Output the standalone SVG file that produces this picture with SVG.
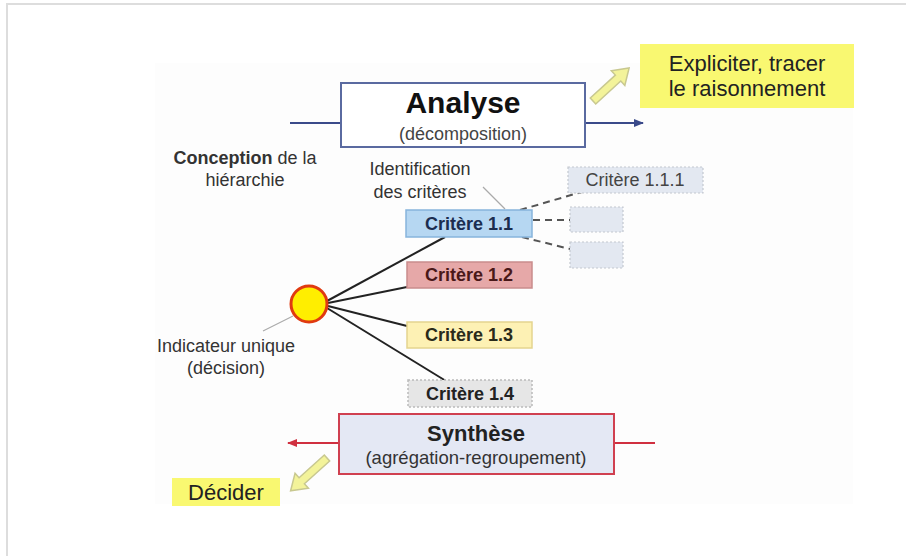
<svg xmlns="http://www.w3.org/2000/svg" width="906" height="556" viewBox="0 0 906 556">
<defs>
<style>
text{font-family:"Liberation Sans",Arial,sans-serif;text-anchor:middle}
.crit{font-size:18px;font-weight:bold}
.lbl{font-size:18px;fill:#333}
.conn{stroke:#222;stroke-width:2;fill:none}
.dash{stroke:#555;stroke-width:2;stroke-dasharray:7,5;fill:none}
.leader{stroke:#aaa;stroke-width:1.2;fill:none}
.yarrow{fill:#f3f39a;stroke:#c8c890;stroke-width:1.5}
.ybox{fill:#f9f871}
</style>
<marker id="ab" viewBox="0 0 10 10" refX="9" refY="5" markerWidth="5" markerHeight="5" orient="auto"><path d="M0,1 L10,5 L0,9 Z" fill="#3a4a8a"/></marker>
<marker id="ar" viewBox="0 0 10 10" refX="9" refY="5" markerWidth="5" markerHeight="5" orient="auto"><path d="M0,1 L10,5 L0,9 Z" fill="#d03040"/></marker>
<path id="blk" d="M0,-4 L34,-4 L34,-10 L49,0 L34,10 L34,4 L0,4 Z"/>
</defs>
<rect width="906" height="556" fill="#fff"/>
<path d="M7,556 L7,4 L906,4" fill="none" stroke="#ddd" stroke-width="2"/>
<rect x="155" y="63" width="698" height="441" fill="#fdfdfd"/>

<g id="connectors">
<line x1="290" y1="123" x2="341" y2="123" stroke="#3a4a8a" stroke-width="2"/>
<line x1="585" y1="123" x2="643" y2="123" stroke="#3a4a8a" stroke-width="2" marker-end="url(#ab)"/>
<line x1="339" y1="443" x2="288" y2="443" stroke="#d03040" stroke-width="2" marker-end="url(#ar)"/>
<line x1="614" y1="443" x2="655" y2="443" stroke="#d03040" stroke-width="2"/>
<use href="#blk" class="yarrow" transform="translate(593,101) rotate(-42.5)"/>
<use href="#blk" class="yarrow" transform="translate(327,458) rotate(138)"/>
<line class="conn" x1="327" y1="301" x2="445" y2="237"/>
<line class="conn" x1="328" y1="303" x2="407" y2="287"/>
<line class="conn" x1="328" y1="306" x2="407" y2="326"/>
<line class="conn" x1="327" y1="308" x2="446" y2="381"/>
<line class="dash" x1="520" y1="210" x2="585" y2="191"/>
<line class="dash" x1="533" y1="220" x2="570" y2="220"/>
<line class="dash" x1="522" y1="237" x2="570" y2="249"/>
<line class="leader" x1="483" y1="187" x2="505" y2="209"/>
<line class="leader" x1="263" y1="331" x2="293" y2="316"/>
</g>

<g id="analyse">
<rect x="341" y="83" width="244" height="64" fill="#fff" stroke="#5a6aa0" stroke-width="2"/>
<text x="463" y="113" font-size="30" font-weight="bold" fill="#111">Analyse</text>
<text x="463" y="140" font-size="18" fill="#444">(décomposition)</text>
</g>

<g id="expliciter">
<rect class="ybox" x="640" y="44" width="214" height="64"/>
<text x="747" y="71" font-size="22" fill="#222">Expliciter, tracer</text>
<text x="747" y="96" font-size="22" fill="#222">le raisonnement</text>
</g>

<g id="conception">
<text x="245" y="164" class="lbl"><tspan font-weight="bold">Conception</tspan> de la</text>
<text x="245" y="186" class="lbl">hiérarchie</text>
</g>

<g id="identification">
<text x="420" y="175" class="lbl">Identification</text>
<text x="420" y="198" class="lbl">des critères</text>
</g>

<g id="critere-1-1">
<rect x="406" y="210" width="126" height="27" fill="#b6d7f2" stroke="#86b4dc" stroke-width="1.5"/>
<text x="469" y="230" class="crit" fill="#1b2d4f">Critère 1.1</text>
</g>

<g id="critere-1-2">
<rect x="407" y="262" width="125" height="26" fill="#e6a8a8" stroke="#c98c8c" stroke-width="1.5"/>
<text x="469" y="281" class="crit" fill="#4a1818">Critère 1.2</text>
</g>

<g id="critere-1-3">
<rect x="407" y="322" width="125" height="26" fill="#fdf1b4" stroke="#e4d48e" stroke-width="1.5"/>
<text x="469" y="341" class="crit" fill="#2a2a1a">Critère 1.3</text>
</g>

<g id="critere-1-4">
<rect x="408" y="380" width="124" height="27" fill="#e6e6e6" stroke="#bbb" stroke-width="1.5" stroke-dasharray="2,2"/>
<text x="470" y="400" class="crit" fill="#222">Critère 1.4</text>
</g>

<g id="critere-1-1-1">
<rect x="568" y="167" width="135" height="26" fill="#e3e8f1" stroke="#c4c8d0" stroke-width="1.2" stroke-dasharray="2,2"/>
<text x="635" y="186" font-size="18" fill="#444">Critère 1.1.1</text>
</g>

<g id="sous-critere-2">
<rect x="570" y="207" width="53" height="25" fill="#e3e8f1" stroke="#c4c8d0" stroke-width="1.2" stroke-dasharray="2,2"/>
</g>

<g id="sous-critere-3">
<rect x="570" y="242" width="53" height="26" fill="#e3e8f1" stroke="#c4c8d0" stroke-width="1.2" stroke-dasharray="2,2"/>
</g>

<g id="indicateur">
<circle cx="309" cy="304" r="18" fill="#ffee00" stroke="#e03a10" stroke-width="3"/>
<text x="226" y="352" class="lbl">Indicateur unique</text>
<text x="226" y="374" class="lbl">(décision)</text>
</g>

<g id="synthese">
<rect x="339" y="414" width="275" height="60" fill="#e4e8f4" stroke="#d04050" stroke-width="2"/>
<text x="476" y="441" font-size="22" font-weight="bold" fill="#222">Synthèse</text>
<text x="476" y="464" font-size="18.5" fill="#333">(agrégation-regroupement)</text>
</g>

<g id="decider">
<rect class="ybox" x="172" y="478" width="108" height="28"/>
<text x="226" y="500" font-size="22" fill="#222">Décider</text>
</g>
</svg>
